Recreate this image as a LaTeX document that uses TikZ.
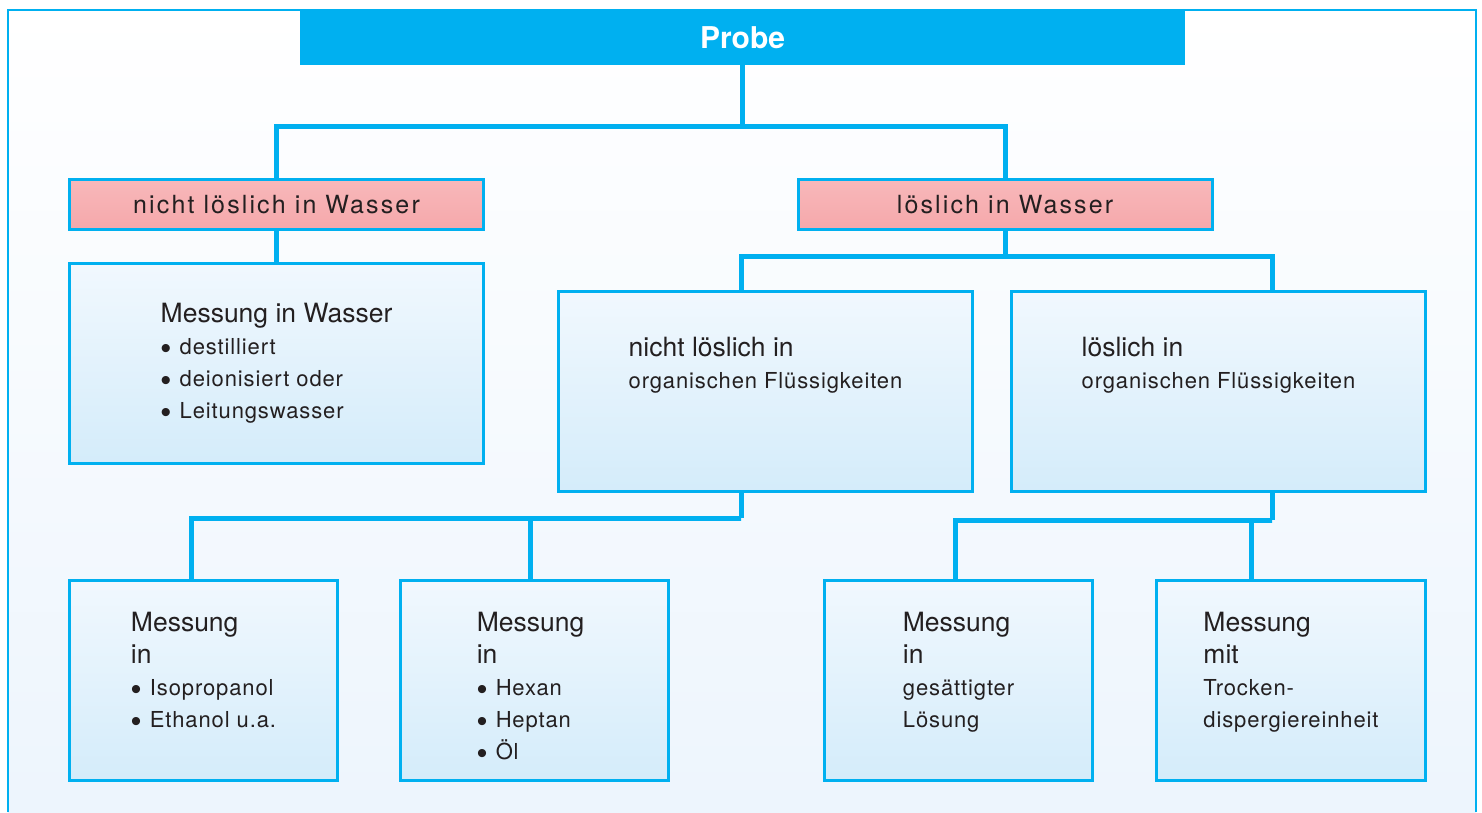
\documentclass[tikz,border=0pt]{standalone}
\usepackage{fontspec}
\setmainfont{TeX Gyre Heros}
\newfontfamily\trackfont[LetterSpace=4]{TeX Gyre Heros}
\newfontfamily\widefont[LetterSpace=8.5]{TeX Gyre Heros}
\newfontfamily\bulletfont{Liberation Sans}
\usepackage{xcolor}
\usepackage{tikz}
\usetikzlibrary{positioning}
\definecolor{cyanline}{HTML}{00B0F0}
\definecolor{ink}{HTML}{231F20}
\definecolor{pinktop}{HTML}{F8B8BA}
\definecolor{pinkbot}{HTML}{F5A8AB}
\definecolor{boxtop}{HTML}{F1F8FE}
\definecolor{boxbot}{HTML}{D4ECFA}
\definecolor{bgbot}{HTML}{EDF5FD}
\newcommand{\gross}{\rmfamily\fontsize{26.5}{32}\selectfont}
\newcommand{\klein}{\trackfont\fontsize{22}{32}\selectfont}
\newcommand{\punkt}{\raisebox{-3.5pt}{\bulletfont\fontsize{30}{32}\selectfont •}\hspace{8.5pt}}

\begin{document}
\begin{tikzpicture}[x=1pt,y=-1pt,
  conn/.style={cyanline,line width=5pt},
  kopf/.style={fill=cyanline,text=white,inner sep=0pt,minimum width=885pt,minimum height=55pt,
               font=\bfseries\fontsize{30}{36}\selectfont},
  stufe/.style={draw=cyanline,line width=3pt,top color=pinktop,bottom color=pinkbot,inner sep=0pt,
                minimum width=414pt,minimum height=50pt,text=ink,font=\widefont\fontsize{25}{30}\selectfont},
  kasten/.style={draw=cyanline,line width=3pt,top color=boxtop,bottom color=boxbot,inner sep=0pt,
                 minimum width=#1,minimum height=200pt},
  kasten/.default=414pt,
  txt/.style={align=left,inner sep=0pt,text=ink,font=\klein}]
  \useasboundingbox (0,0) rectangle (1482,812);
  \fill[top color=white,bottom color=bgbot] (8,10) rectangle (1476,812);
  \draw[cyanline,line width=2pt] (8,812) -- (8,10) -- (1476,10) -- (1476,812);
  \node[kopf] (probe) at (742.5,37.5) {Probe};
  \node[stufe] (nl) at (276.5,204.5) {nicht löslich in Wasser};
  \node[stufe] (l) at (1005,204.5) {löslich in Wasser};
  \node[kasten] (wasser) at (276.5,363.5) {};
  \node[kasten] (nlorg) at (765.5,391.5) {};
  \node[kasten] (lorg) at (1218.5,391.5) {};
  \node[kasten=268pt] (iso) at (203.5,680.5) {};
  \node[kasten=268pt] (hex) at (534.5,680.5) {};
  \node[kasten=268pt] (gesl) at (958.5,680.5) {};
  \node[kasten=269pt] (trock) at (1291,680.5) {};
  \node[txt,below=41pt of wasser.north] (twasser) {{\gross Messung in Wasser}\\\punkt destilliert\\\punkt deionisiert oder\\\punkt Leitungswasser};
  \node[txt,below=47pt of nlorg.north] (tnlorg) {{\gross nicht löslich in}\\organischen Flüssigkeiten};
  \node[txt,below=47pt of lorg.north] (tlorg) {{\gross löslich in}\\organischen Flüssigkeiten};
  \node[txt,below=33pt of iso.north] (tiso) {{\gross Messung}\\{\gross in}\\\punkt Isopropanol\\\punkt Ethanol u.a.};
  \node[txt,below=33pt of hex.north,xshift=-4pt] (thex) {{\gross Messung}\\{\gross in}\\\punkt Hexan\\\punkt Heptan\\\punkt Öl};
  \node[txt,below=33pt of gesl.north] (tgesl) {{\gross Messung}\\{\gross in}\\gesättigter\\Lösung};
  \node[txt,below=33pt of trock.north] (ttrock) {{\gross Messung}\\{\gross mit}\\Trocken-\\dispergiereinheit};
  \coordinate (k1) at (742.5,126);
  \coordinate (k2) at (1005,256);
  \coordinate (k3) at (741,518);
  \coordinate (k4) at (1272,520);
  \draw[conn] (probe.south) -- (k1);
  \draw[conn] (nl.north) |- (k1) -| (l.north);
  \draw[conn] (nl.south) -- (wasser.north);
  \draw[conn] (l.south) -- (k2);
  \draw[conn] ([xshift=-24.5pt]nlorg.north) |- (k2) -| ([xshift=53.5pt]lorg.north);
  \draw[conn] ([xshift=-24.5pt]nlorg.south) -- (k3);
  \draw[conn] ([xshift=-12.5pt]iso.north) |- (k3) -| ([xshift=-4.5pt]hex.north);
  \draw[conn] ([xshift=53.5pt]lorg.south) -- (k4);
  \draw[conn] ([xshift=-3.5pt]gesl.north) |- (k4) -| ([xshift=-40pt]trock.north);
\end{tikzpicture}
\end{document}
